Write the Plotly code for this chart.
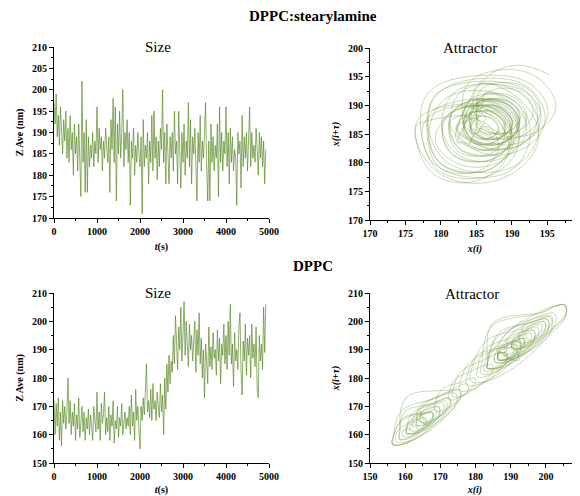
import plotly.graph_objects as go

# ---------------- data ----------------
t_step = 25  # seconds between samples
size_stearyl = [
    197, 192, 199, 189, 194, 187, 196, 190, 185, 193,
    188, 195, 184, 191, 183, 194, 186, 190, 180, 192,
    185, 189, 181, 192, 184, 175, 202, 183, 190, 176,
    193, 176, 189, 182, 187, 184, 190, 182, 188, 185,
    196, 183, 191, 186, 189, 181, 188, 184, 191, 185,
    183, 189, 176, 193, 186, 198, 183, 196, 174, 192,
    185, 195, 184, 190, 200, 182, 190, 186, 193, 183,
    190, 173, 188, 184, 191, 180, 187, 183, 190, 185,
    182, 189, 171, 193, 182, 187, 184, 190, 178, 188,
    183, 194, 181, 195, 184, 189, 179, 188, 182, 191,
    186, 200, 183, 190, 178, 192, 185, 178, 189, 184,
    190, 181, 195, 185, 188, 178, 195, 184, 177, 190,
    183, 192, 180, 188, 184, 197, 182, 193, 178, 189,
    185, 191, 180, 174, 190, 183, 194, 181, 188, 184,
    190, 197, 182, 174, 188, 174, 192, 183, 189, 181,
    187, 184, 192, 175, 196, 183, 190, 181, 188, 185,
    196, 182, 190, 178, 191, 183, 189, 181, 186, 184,
    173, 190, 185, 188, 177, 194, 182, 189, 184, 190,
    181, 188, 196, 182, 190, 184, 187, 183, 191, 186,
    180, 190, 184, 189, 182, 188, 178, 186,
]
size_dppc = [
    172, 160, 171, 163, 173, 158, 168, 156, 172, 164,
    170, 162, 168, 180, 164, 172, 160, 168, 163, 171,
    158, 167, 162, 173, 159, 166, 170, 161, 168, 158,
    166, 162, 169, 160, 167, 163, 158, 170, 164, 161,
    175, 162, 168, 158, 171, 164, 167, 175, 160, 166,
    161, 170, 158, 167, 163, 172, 157, 165, 162, 170,
    159, 166, 163, 171, 160, 165, 168, 162, 166, 163,
    170, 160, 174, 163, 168, 158, 176, 165, 170, 162,
    155, 170, 165, 173, 167, 175, 185, 168, 172, 166,
    176, 165, 178, 169, 172, 165, 175, 170, 166, 178,
    168, 174, 160, 180, 169, 185, 175, 188, 178, 186,
    182, 195, 185, 202, 188, 183, 198, 190, 205, 186,
    195, 207, 188, 200, 192, 184, 199, 190, 195, 186,
    193, 200, 182, 197, 188, 203, 185, 194, 180, 190,
    173, 192, 186, 178, 198, 184, 191, 183, 196, 187,
    190, 181, 197, 186, 194, 178, 192, 188, 199, 185,
    195, 183, 200, 188, 206, 185, 192, 177, 196, 186,
    190, 183, 198, 203, 182, 174, 193, 186, 199, 181,
    194, 188, 195, 180, 199, 187, 192, 184, 198, 176,
    173, 195, 186, 192, 183, 205, 189, 206,
]

# embedded (reconstructed) series used for the phase-space attractors
attr_lag_stearyl = 2
attr_stearyl = [
    184.0, 188.5, 190.2, 187.9, 183.6, 179.5, 178.3, 180.4,
    185.3, 190.9, 192.6, 190.2, 184.8, 179.0, 177.4, 179.9,
    186.2, 189.1, 189.8, 188.3, 185.7, 183.0, 182.3, 183.6,
    183.4, 187.8, 189.6, 187.5, 182.6, 178.3, 176.5, 178.8,
    186.8, 189.2, 190.1, 188.7, 186.6, 184.7, 184.2, 185.3,
    186.3, 189.8, 190.7, 189.0, 185.6, 182.2, 181.3, 183.0,
    188.2, 192.5, 193.6, 191.7, 187.6, 183.5, 182.4, 184.2,
    185.5, 191.2, 193.8, 190.9, 184.6, 178.8, 176.4, 179.1,
    186.1, 187.6, 188.1, 187.2, 185.8, 184.5, 184.2, 184.9,
    187.3, 190.0, 190.8, 189.5, 186.7, 184.0, 183.3, 184.6,
    187.1, 190.6, 192.0, 190.4, 186.8, 183.4, 182.1, 183.6,
    186.0, 188.2, 189.0, 188.0, 185.9, 183.9, 183.1, 184.1,
    188.2, 191.0, 192.1, 190.7, 187.9, 185.2, 184.1, 185.3,
    185.2, 189.4, 191.1, 189.0, 184.7, 180.7, 179.2, 181.1,
    184.2, 188.4, 189.9, 187.9, 183.7, 179.6, 178.2, 180.3,
    188.4, 192.8, 194.7, 192.6, 187.5, 183.2, 181.3, 183.5,
    187.0, 188.5, 189.1, 188.3, 186.9, 185.5, 185.0, 185.6,
    189.2, 192.7, 194.0, 192.4, 188.8, 185.4, 184.1, 185.6,
    186.2, 188.3, 189.1, 187.9, 185.8, 183.9, 183.2, 184.3,
    185.3, 188.7, 189.9, 188.4, 184.8, 181.4, 180.2, 181.8,
    186.1, 188.9, 190.0, 188.7, 185.8, 183.1, 182.1, 183.3,
    184.3, 189.2, 191.0, 188.7, 183.7, 179.0, 177.2, 179.4,
    189.2, 193.4, 195.1, 192.9, 188.6, 184.6, 183.1, 185.2,
    187.1, 189.2, 190.1, 189.0, 186.9, 184.8, 184.0, 185.0,
    183.2, 186.8, 188.1, 186.4, 182.7, 179.3, 178.1, 179.8,
    188.2, 192.4, 194.1, 192.0, 187.7, 183.7, 182.2, 184.1,
    186.1, 187.5, 188.1, 187.4, 185.9, 184.6, 184.0, 184.6,
    187.2, 189.9, 191.1, 189.6, 186.8, 184.1, 183.2, 184.5,
    187.2, 190.0, 191.1, 189.7, 186.8, 184.1, 183.0, 184.2,
    185.1, 188.6, 190.0, 188.4, 184.8, 181.4, 180.1, 181.6,
    186.4, 191.9, 193.8, 191.4, 185.7, 180.2, 178.3, 180.8,
    188.1, 190.2, 191.1, 190.0, 187.9, 185.8, 185.0, 185.9,
    186.2, 190.4, 192.1, 190.0, 185.7, 181.7, 180.2, 182.1,
    187.0, 189.1, 190.0, 189.0, 186.9, 184.8, 184.0, 185.0,
    188.1, 190.3, 191.2, 190.0, 187.8, 185.7, 185.0, 186.1,
    189.1, 191.9, 193.0, 191.7, 188.8, 186.1, 185.1, 186.3,
    185.1, 187.9, 189.0, 187.7, 184.8, 182.1, 181.1, 182.3,
    186.2, 189.7, 191.0, 189.4, 185.8, 182.4, 181.1, 182.6,
    187.1, 189.9, 191.0, 189.7, 186.8, 184.1, 183.0, 184.3,
    190.3, 194.4, 196.2, 194.0, 189.6, 185.8, 184.5, 186.7,
    191.0, 195.2, 197.0, 195.4,
]
attr_lag_dppc = 1
attr_dppc = [
    163.2, 167.0, 169.5, 169.8, 167.3, 163.1, 158.7, 156.4, 156.5, 159.2,
    165.1, 168.0, 169.6, 169.7, 167.7, 164.8, 162.0, 160.3, 160.4, 162.3,
    166.2, 171.4, 174.4, 174.5, 171.0, 165.8, 160.5, 157.5, 157.6, 160.9,
    164.1, 166.5, 167.7, 167.9, 166.2, 163.9, 161.5, 160.3, 160.4, 161.8,
    167.2, 170.6, 172.5, 172.8, 170.3, 166.9, 163.4, 161.4, 161.5, 163.7,
    162.1, 165.6, 167.5, 167.8, 165.3, 161.8, 158.4, 156.4, 156.6, 158.9,
    168.3, 172.8, 175.4, 175.5, 172.4, 167.7, 163.1, 160.5, 160.7, 163.6,
    165.2, 168.7, 170.8, 171.0, 168.5, 165.0, 161.5, 159.4, 159.5, 161.8,
    162.1, 164.5, 165.8, 165.9, 164.3, 161.9, 159.6, 158.3, 158.4, 159.9,
    168.1, 171.0, 172.7, 172.9, 170.8, 167.9, 165.1, 163.3, 163.4, 165.3,
    164.3, 169.0, 171.5, 171.7, 168.6, 163.8, 159.2, 156.5, 156.7, 159.6,
    166.0, 167.8, 168.8, 168.9, 167.7, 165.9, 164.2, 163.2, 163.2, 164.3,
    170.2, 173.7, 175.6, 175.8, 173.4, 169.9, 166.4, 164.4, 164.5, 166.7,
    163.1, 166.0, 167.7, 167.9, 165.8, 162.9, 160.1, 158.3, 158.4, 160.3,
    173.2, 176.0, 177.6, 177.9, 175.7, 172.8, 170.0, 168.3, 168.5, 170.4,
    176.1, 178.5, 179.8, 179.9, 178.3, 175.9, 173.6, 172.3, 172.4, 173.9,
    179.2, 182.6, 184.5, 184.8, 182.3, 178.8, 175.4, 173.4, 173.6, 175.9,
    182.2, 186.3, 188.6, 188.8, 186.0, 181.8, 177.8, 175.5, 175.6, 178.2,
    185.3, 189.8, 192.4, 192.7, 189.5, 184.8, 180.1, 177.5, 177.6, 180.6,
    188.1, 191.0, 192.7, 192.9, 190.8, 187.9, 185.1, 183.3, 183.4, 185.3,
    190.2, 197.2, 201.2, 201.5, 196.8, 189.7, 182.7, 178.7, 178.9, 183.2,
    193.2, 197.3, 199.6, 199.8, 197.0, 192.8, 188.8, 186.5, 186.6, 189.2,
    188.1, 191.6, 193.5, 193.8, 191.3, 187.8, 184.4, 182.4, 182.5, 184.7,
    190.1, 192.5, 193.8, 193.9, 192.3, 189.9, 187.6, 186.3, 186.4, 187.9,
    192.2, 197.4, 200.4, 200.7, 197.1, 191.8, 186.5, 183.5, 183.6, 186.9,
    196.2, 199.7, 201.6, 201.8, 199.4, 195.9, 192.4, 190.4, 190.5, 192.7,
    195.1, 198.0, 199.6, 199.9, 197.7, 194.8, 192.0, 190.3, 190.4, 192.3,
    186.2, 189.7, 191.6, 191.8, 189.4, 185.9, 182.4, 180.4, 180.5, 182.7,
    190.2, 194.2, 196.5, 196.8, 193.9, 189.8, 185.8, 183.4, 183.5, 186.1,
    194.3, 199.6, 202.5, 202.7, 199.2, 193.8, 188.6, 185.6, 185.8, 189.1,
    196.2, 202.0, 205.3, 205.6, 201.6, 195.8, 189.9, 186.6, 186.8, 190.4,
    191.0, 192.8, 193.8, 193.9, 192.7, 190.9, 189.2, 188.2, 188.2, 189.3,
    187.1, 189.5, 190.7, 190.9, 189.2, 186.9, 184.5, 183.3, 183.4, 184.8,
    199.2, 203.3, 205.6, 205.8, 203.0, 198.8, 194.8, 192.5, 192.6, 195.2,
    193.2, 197.8, 200.4, 200.7, 197.5, 192.8, 188.1, 185.5, 185.6, 188.6,
    189.3, 194.0, 196.5, 196.7, 193.6, 188.8, 184.2, 181.5, 181.7, 184.6,
    198.2, 202.8, 205.4, 205.7, 202.5, 197.8, 193.1, 190.5, 190.6, 193.6,
    195.1, 197.5, 198.8, 198.9, 197.3, 194.9, 192.6, 191.3, 191.4, 192.9,
    192.2, 195.7, 197.6, 197.8, 195.4, 191.9, 188.4, 186.4, 186.5, 188.7,
    191.1, 194.0, 195.6, 195.9, 193.7, 190.8, 188.0, 186.3, 186.4, 188.4,
]

t_stearyl = [i * t_step for i in range(len(size_stearyl))]
t_dppc = [i * t_step for i in range(len(size_dppc))]

# ---------------- styling ----------------
# page body has an 8px margin, so the figure is drawn from (8, 8)
OFF = 8
W, H = 580 - OFF, 496 - OFF
SERIF = "Liberation Serif"
TS_COLOR = "rgba(88,135,35,0.85)"
AT_COLOR = "rgba(105,150,55,0.5)"


def px(x):
    return (x - OFF) / W


def py(y):
    return 1 - (y - OFF) / H


fig = go.Figure()

fig.add_trace(go.Scatter(x=t_stearyl, y=size_stearyl, mode="lines",
                         line=dict(color=TS_COLOR, width=0.8),
                         xaxis="x", yaxis="y", showlegend=False))
fig.add_trace(go.Scatter(x=attr_stearyl[:-attr_lag_stearyl], y=attr_stearyl[attr_lag_stearyl:],
                         mode="lines", line=dict(color=AT_COLOR, width=0.7, shape="spline", smoothing=1.1),
                         xaxis="x2", yaxis="y2", showlegend=False))
fig.add_trace(go.Scatter(x=t_dppc, y=size_dppc, mode="lines",
                         line=dict(color=TS_COLOR, width=0.8),
                         xaxis="x3", yaxis="y3", showlegend=False))
fig.add_trace(go.Scatter(x=attr_dppc[:-attr_lag_dppc], y=attr_dppc[attr_lag_dppc:],
                         mode="lines", line=dict(color=AT_COLOR, width=0.7, shape="spline", smoothing=1.1),
                         xaxis="x4", yaxis="y4", showlegend=False))

tickfont = dict(family=SERIF, size=10, color="black", weight="bold")
titlefont = dict(family=SERIF, size=10, color="black", weight="bold")


def axis(domain, rng, dtick, minor_dtick, title, anchor, standoff):
    return dict(domain=domain, range=rng, dtick=dtick, automargin=False,
                showline=True, linecolor="black", linewidth=1,
                ticks="outside", ticklen=4, tickwidth=1, tickcolor="black",
                minor=dict(ticks="outside", ticklen=2, tickcolor="black", dtick=minor_dtick),
                showgrid=False, zeroline=False, tickfont=tickfont,
                title=dict(text=title, font=titlefont, standoff=standoff),
                anchor=anchor, fixedrange=True)


fig.update_layout(
    width=W, height=H,
    margin=dict(l=0, r=0, t=0, b=0, autoexpand=False),
    paper_bgcolor="white", plot_bgcolor="white",
    xaxis=axis([px(54), px(269)], [0, 5000], 1000, 500, "<i>t</i>(s)", "y", 6),
    yaxis=axis([py(218), py(47)], [170, 210], 5, 2.5, "Z Ave (nm)", "x", 6),
    xaxis2=axis([px(370), 1.0], [170, 199.6], 5, 2.5, "<i>x(i)</i>", "y2", 6),
    yaxis2=axis([py(220), py(48)], [170, 200], 5, 2.5, "<i>x(i+τ)</i>", "x2", 6),
    xaxis3=axis([px(54), px(269)], [0, 5000], 1000, 500, "<i>t</i>(s)", "y3", 6),
    yaxis3=axis([py(463), py(293)], [150, 210], 10, 5, "Z Ave (nm)", "x3", 6),
    xaxis4=axis([px(370), 1.0], [150, 209.7], 10, 5, "<i>x(i)</i>", "y4", 6),
    yaxis4=axis([py(463), py(293)], [150, 210], 10, 5, "<i>x(i+τ)</i>", "x4", 6),
)

ann = [
    dict(text="<b>DPPC:stearylamine</b>", x=px(313), y=py(16), size=15),
    dict(text="<b>DPPC</b>", x=px(313), y=py(266), size=15),
    dict(text="Size", x=px(158), y=py(47), size=15),
    dict(text="Attractor", x=px(470), y=py(48), size=15),
    dict(text="Size", x=px(158), y=py(293), size=15),
    dict(text="Attractor", x=px(472), y=py(294), size=15),
]
for a in ann:
    fig.add_annotation(text=a["text"], x=a["x"], y=a["y"], xref="paper", yref="paper",
                       showarrow=False, xanchor="center", yanchor="middle",
                       font=dict(family=SERIF, size=a["size"], color="black"))

fig.write_html("out.html")
